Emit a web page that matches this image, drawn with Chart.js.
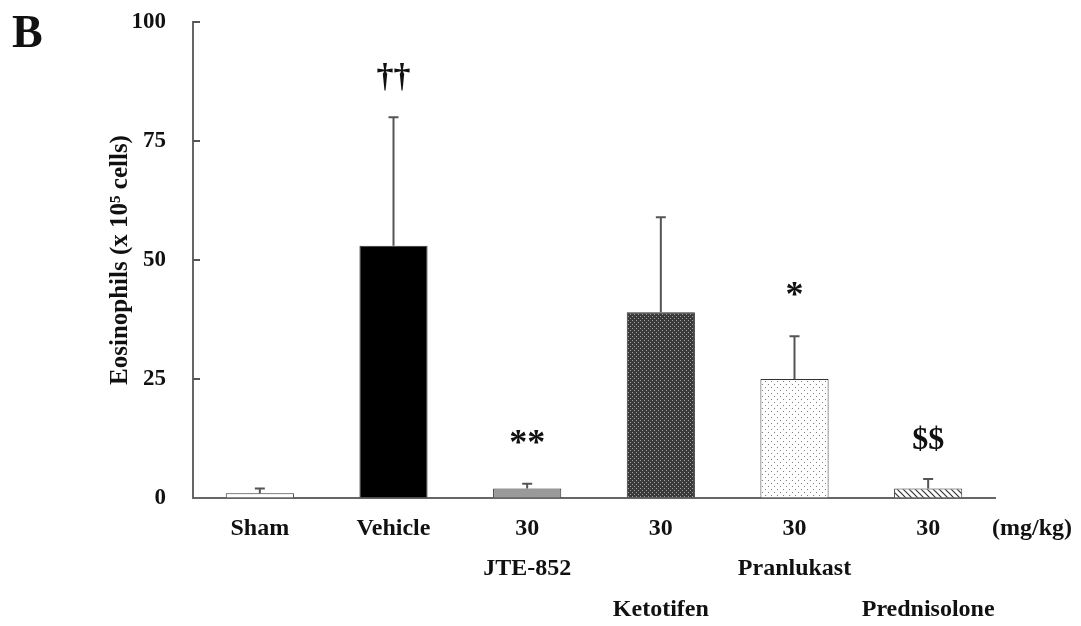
<!DOCTYPE html>
<html>
<head>
<meta charset="utf-8">
<script src="https://cdn.jsdelivr.net/npm/chart.js@4.4.0/dist/chart.umd.min.js"></script>
<style>
  html, body { margin: 0; padding: 0; background: #fff; }
  #wrap { width: 1081px; height: 626px; position: relative; }
</style>
</head>
<body>
<div id="wrap"><canvas id="chart"></canvas></div>
<script>
// data
const groups = ['Sham', 'Vehicle', 'JTE-852', 'Ketotifen', 'Pranlukast', 'Prednisolone'];
const axisLabels = [['Sham'], ['Vehicle'], ['30', 'JTE-852'], ['30', '', 'Ketotifen'], ['30', 'Pranlukast'], ['30', '', 'Prednisolone']];
const means = [1, 53, 2, 39, 25, 2];
const sds = [1, 27, 1, 20, 9, 2];
const marks = ['', '\u2020\u2020', '**', '', '*', '$$'];
const markSizes = [0, 34, 36, 0, 36, 32];
const yTicks = [0, 25, 50, 75, 100];

const serif = "'Liberation Serif', 'DejaVu Serif', serif";
const ctx = document.getElementById('chart').getContext('2d');

function makePattern(size, bg, draw)
{
  let c = document.createElement('canvas');
  c.width = size;
  c.height = size;
  let g = c.getContext('2d');
  g.fillStyle = bg;
  g.fillRect(0, 0, size, size);
  draw(g);
  return ctx.createPattern(c, 'repeat');
}

// dark cross-hatch (Ketotifen)
const darkDots = makePattern(4, '#3a3a3a', (g) =>
{
  g.fillStyle = '#a0a0a0';
  g.fillRect(0, 0, 1, 1);
  g.fillRect(2, 2, 1, 1);
});
// light dots (Pranlukast)
const lightDots = makePattern(6, '#ffffff', (g) =>
{
  g.fillStyle = '#808080';
  g.fillRect(0, 0, 1, 1);
  g.fillRect(3, 3, 1, 1);
});
// diagonal hatching (Prednisolone)
const hatch = makePattern(6, '#ffffff', (g) =>
{
  g.strokeStyle = '#333';
  g.lineWidth = 1.2;
  g.beginPath();
  g.moveTo(-1, -1); g.lineTo(7, 7);
  g.moveTo(-4, 2); g.lineTo(1, 7);
  g.moveTo(5, -1); g.lineTo(8, 2);
  g.stroke();
});

const fills = ['#ffffff', '#000000', '#9a9a9a', darkDots, lightDots, hatch];

const extras = {
  id: 'extras',
  afterDatasetsDraw(chart)
  {
    const c = chart.ctx;
    const y = chart.scales.y;
    const meta = chart.getDatasetMeta(0);
    c.save();
    // error bars (upper only)
    c.strokeStyle = '#555';
    c.lineWidth = 2;
    meta.data.forEach((bar, i) =>
    {
      let top = y.getPixelForValue(means[i] + sds[i]);
      c.beginPath();
      c.moveTo(bar.x, bar.y);
      c.lineTo(bar.x, top);
      c.moveTo(bar.x - 5, top);
      c.lineTo(bar.x + 5, top);
      c.stroke();
    });
    // inward tick marks on y axis
    const left = chart.chartArea.left;
    yTicks.forEach((v) =>
    {
      if (v === 0) return;
      let py = y.getPixelForValue(v);
      c.beginPath();
      c.moveTo(left, py);
      c.lineTo(left + 7, py);
      c.stroke();
    });
    // significance marks
    c.fillStyle = '#111';
    c.textAlign = 'center';
    c.textBaseline = 'alphabetic';
    meta.data.forEach((bar, i) =>
    {
      if (!marks[i]) return;
      let top = y.getPixelForValue(means[i] + sds[i]);
      c.font = 'bold ' + markSizes[i] + 'px ' + serif;
      c.fillText(marks[i], bar.x, top - 30);
    });
    // unit label and panel letter
    c.font = 'bold 24px ' + serif;
    c.textBaseline = 'middle';
    c.fillText('(mg/kg)', chart.chartArea.right + 37, 529);
    c.textAlign = 'left';
    c.textBaseline = 'alphabetic';
    c.font = 'bold 46px ' + serif;
    c.fillText('B', 12, 47);
    c.restore();
  }
};

new Chart(ctx,
{
  type: 'bar',
  data:
  {
    labels: axisLabels,
    datasets: [
    {
      label: 'Eosinophils',
      data: means,
      backgroundColor: fills,
      borderColor: '#333',
      borderWidth: 1,
      barPercentage: 0.51,
      categoryPercentage: 1,
    }, ],
  },
  options:
  {
    responsive: true,
    maintainAspectRatio: false,
    animation: false,
    layout: { padding: { left: 0, right: 86, top: 22, bottom: 0 } },
    plugins: { legend: { display: false }, tooltip: { enabled: false } },
    scales:
    {
      x:
      {
        grid: { display: true, drawOnChartArea: false, drawTicks: false },
        border: { display: true, color: '#666', width: 2 },
        ticks:
        {
          color: '#111',
          autoSkip: false,
          maxRotation: 0,
          padding: 10,
          font: { family: serif, size: 24, weight: 'bold', lineHeight: 1.7 },
        },
        afterFit: (s) =>
        {
          s.height = 128;
          s.paddingTop = 0;
          s.paddingBottom = 0;
        },
      },
      y:
      {
        min: 0,
        max: 100,
        afterBuildTicks: (s) => { s.ticks = yTicks.map((v) => ({ value: v })); },
        grid: { display: true, drawOnChartArea: false, drawTicks: false },
        border: { display: true, color: '#666', width: 2 },
        ticks:
        {
          color: '#111',
          padding: 27,
          font: { family: serif, size: 23, weight: 'bold' },
        },
        title:
        {
          display: true,
          text: 'Eosinophils (x 10\u2075 cells)',
          color: '#111',
          font: { family: serif, size: 25, weight: 'bold' },
          padding: { top: 106 },
        },
        afterFit: (s) =>
        {
          s.width = 193;
          s.paddingTop = 0;
          s.paddingBottom = 0;
        },
      },
    },
  },
  plugins: [extras],
});
</script>
</body>
</html>
